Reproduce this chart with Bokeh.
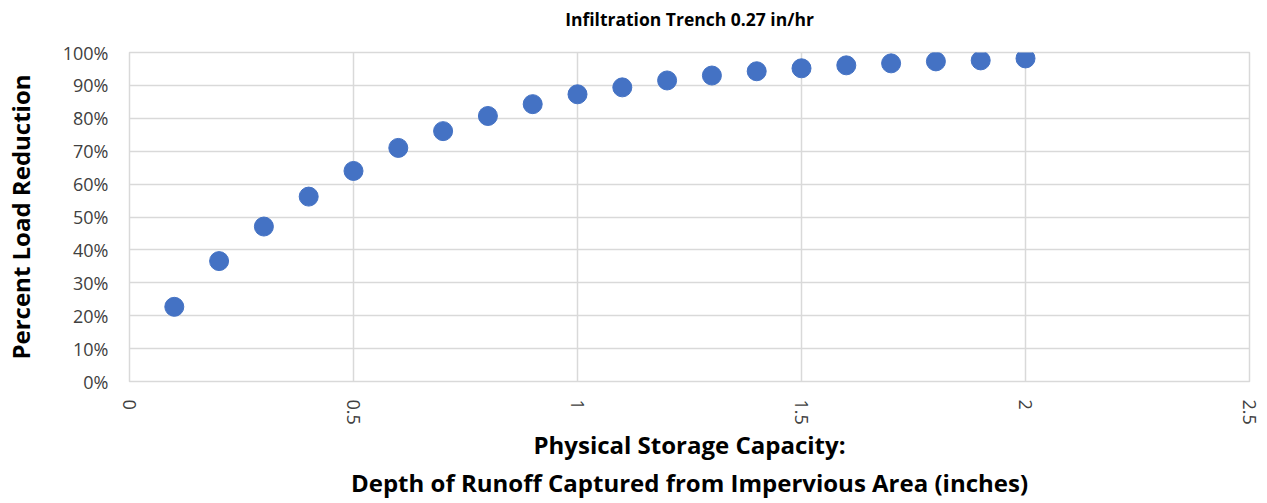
import math
from bokeh.plotting import figure
from bokeh.models import (Range1d, FixedTicker, NumeralTickFormatter,
                          CustomJSTickFormatter, Title)
from bokeh.embed import file_html
from bokeh.resources import INLINE

depth = [0.1, 0.2, 0.3, 0.4, 0.5, 0.6, 0.7, 0.8, 0.9, 1.0,
         1.1, 1.2, 1.3, 1.4, 1.5, 1.6, 1.7, 1.8, 1.9, 2.0]
reduction = [0.227, 0.366, 0.471, 0.562, 0.640, 0.710, 0.761, 0.807, 0.843, 0.873,
             0.894, 0.915, 0.930, 0.943, 0.952, 0.961, 0.967, 0.973, 0.976, 0.982]
x_ticks = [0, 0.5, 1, 1.5, 2, 2.5]
y_ticks = [0, 0.1, 0.2, 0.3, 0.4, 0.5, 0.6, 0.7, 0.8, 0.9, 1.0]
title_text = "Infiltration Trench 0.27 in/hr"

FONT = "Open Sans"

p = figure(width=1262, height=502, output_backend="svg", toolbar_location=None,
           x_range=Range1d(0, 2.5), y_range=Range1d(0, 1.0),
           min_border_left=129, min_border_right=13, min_border_top=52, min_border_bottom=119)

# spacer between plot area and the title (nearest the frame), then the title
p.add_layout(Title(text=" ", text_font_size="1px", standoff=18), "above")
p.add_layout(Title(text=title_text, align="center", text_font=FONT,
                   text_font_size="17.5px", text_font_style="bold",
                   text_color="#000000", standoff=2), "above")

p.scatter(depth, reduction, size=19, color="#4472C4", line_color="#4472C4")

p.xaxis.ticker = FixedTicker(ticks=x_ticks)
p.yaxis.ticker = FixedTicker(ticks=y_ticks)
p.yaxis.formatter = NumeralTickFormatter(format="0%")
p.xaxis.formatter = CustomJSTickFormatter(code="return String(tick);")
p.xaxis.major_label_orientation = -math.pi / 2

for ax in (p.xaxis[0], p.yaxis[0]):
    ax.axis_line_color = None
    ax.major_tick_line_color = None
    ax.minor_tick_line_color = None
    ax.major_label_text_font = FONT
    ax.major_label_text_font_size = "18px"
    ax.major_label_text_color = "#404040"
    ax.axis_label_text_font = FONT
    ax.axis_label_text_font_size = "24px"
    ax.axis_label_text_font_style = "bold"
    ax.axis_label_text_color = "#000000"

p.yaxis.axis_label = "Percent Load Reduction"
p.xaxis.axis_label = "Physical Storage Capacity:\nDepth of Runoff Captured from Impervious Area (inches)"
p.xaxis.axis_label_text_line_height = 1.16
p.xaxis.major_label_standoff = 12
p.xaxis.axis_label_standoff = 0
p.yaxis.major_label_standoff = 15
p.yaxis.axis_label_standoff = 23

p.grid.grid_line_color = "#d9d9d9"
p.grid.grid_line_width = 1.5
p.outline_line_color = "#d9d9d9"
p.outline_line_width = 1.5

open("out.html", "w").write(file_html(p, INLINE))
